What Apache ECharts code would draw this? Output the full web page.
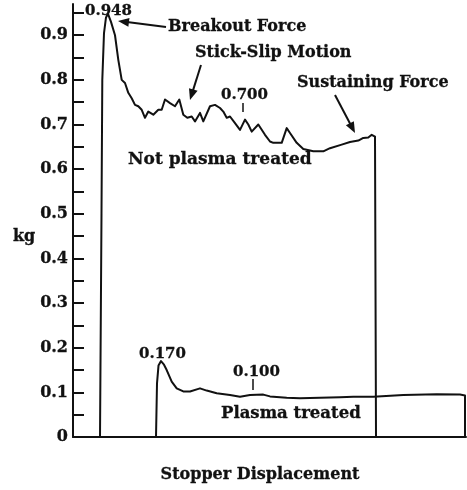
<!DOCTYPE html>
<html>
<head>
<meta charset="utf-8">
<script src="https://cdn.jsdelivr.net/npm/echarts@6/dist/echarts.min.js"></script>
<style>
html,body{margin:0;padding:0;background:#fff;}
#chart{width:467px;height:490px;}
</style>
</head>
<body>
<div id="chart"></div>
<script>
// Stopper displacement (arbitrary units) and force (kg)
var notPlasmaX = [27,28.5,29.3,31,33,35,38,42,45.3,48.7,52,55.3,58.7,62,65.3,68.7,72,75.3,80.3,85.3,88.7,92,97,102,106.3,110.3,114.3,118.7,122,127,130.3,137,142,147,150.3,153.7,157,162,167,172,175.3,178.7,185.3,192,197,200.3,208.7,213.7,217,223.7,230.3,240.3,250.3,257,268.7,277,285.3,290.3,295.3,298.7,302,303];
var notPlasmaY = [0,0.5,0.8,0.905,0.94,0.948,0.93,0.9,0.845,0.800,0.793,0.771,0.759,0.744,0.741,0.733,0.715,0.729,0.722,0.733,0.733,0.756,0.748,0.741,0.756,0.722,0.715,0.718,0.707,0.726,0.707,0.741,0.744,0.737,0.729,0.715,0.718,0.703,0.688,0.711,0.700,0.684,0.700,0.677,0.662,0.659,0.659,0.692,0.681,0.659,0.645,0.640,0.640,0.647,0.655,0.661,0.664,0.670,0.671,0.677,0.673,0];
var plasmaX = [83,84,85.5,88,91,93.7,98.7,103.7,110.3,117,127,133.7,143.7,157,167,177,190.3,197,213.7,227,247,267,280.3,300.3,330.3,363.7,387,392,392];
var plasmaY = [0,0.12,0.16,0.170,0.162,0.150,0.124,0.109,0.102,0.102,0.109,0.104,0.098,0.094,0.090,0.094,0.095,0.091,0.088,0.087,0.088,0.089,0.090,0.090,0.094,0.096,0.095,0.093,0];
var yTickValues = [0,0.05,0.1,0.15,0.2,0.25,0.3,0.35,0.4,0.45,0.5,0.55,0.6,0.65,0.7,0.75,0.8,0.85,0.9,0.95];
var yLabelValues = [0,0.1,0.2,0.3,0.4,0.5,0.6,0.7,0.8,0.9];
var yLabelText = ['0','0.1','0.2','0.3','0.4','0.5','0.6','0.7','0.8','0.9'];

function pairs(xs, ys){ return xs.map(function(x,i){ return [x, ys[i]]; }); }

var FONT = '"DejaVu Serif", "Liberation Serif", serif';

function txt(s, x, y, size, align){
  return {type:'text', x:x, y:y, silent:true,
    style:{text:s, fontFamily:FONT, fontWeight:'bold', fontSize:size||16, fill:'#111',
      stroke:'#111', lineWidth:0.3,
      align:align||'left', verticalAlign:'middle'}};
}
function arrow(x1,y1,x2,y2){
  var dx=x2-x1, dy=y2-y1, L=Math.sqrt(dx*dx+dy*dy), ux=dx/L, uy=dy/L;
  var hl=11, hw=4.5;
  var bx=x2-ux*hl, by=y2-uy*hl;
  return [
    {type:'line', silent:true, shape:{x1:x1,y1:y1,x2:bx+ux*2,y2:by+uy*2}, style:{stroke:'#111', lineWidth:2}},
    {type:'polygon', silent:true, shape:{points:[[x2,y2],[bx-uy*hw,by+ux*hw],[bx+uy*hw,by-ux*hw]]}, style:{fill:'#111'}}
  ];
}
function seg(x1,y1,x2,y2){
  return {type:'line', silent:true, shape:{x1:x1,y1:y1,x2:x2,y2:y2}, style:{stroke:'#111', lineWidth:1.5}};
}

var chart = echarts.init(document.getElementById('chart'), null, {renderer:'canvas'});
var graphics = [
  txt('0.948', 85, 11, 15),
  txt('Breakout Force', 168, 27),
  txt('Stick-Slip Motion', 195, 53),
  txt('Sustaining Force', 297, 83),
  txt('0.700', 221, 95, 15),
  seg(243,103,243,112),
  txt('Not plasma treated', 128, 160, 17),
  txt('kg', 13, 237),
  txt('0.170', 139, 354, 15),
  txt('0.100', 233, 372, 15),
  seg(253,379,253,390),
  txt('Plasma treated', 221, 414, 16.5),
  txt('Stopper Displacement', 260, 475, 16, 'center')
].concat(arrow(166,27,118,21)).concat(arrow(201,65,190,100)).concat(arrow(335,95,355,133));

chart.setOption({
  animation:false,
  backgroundColor:'#fff',
  grid:{left:73, right:1, top:4, bottom:53, containLabel:false},
  xAxis:{type:'value', min:0, max:393,
    axisLine:{show:true, onZero:false, lineStyle:{color:'#111', width:2}},
    axisTick:{show:false}, axisLabel:{show:false}, splitLine:{show:false}},
  yAxis:{type:'value', min:0, max:0.97,
    axisLine:{show:true, lineStyle:{color:'#111', width:2}},
    axisTick:{show:true, inside:true, length:11, lineStyle:{color:'#111', width:2}, customValues:yTickValues},
    axisLabel:{show:true, margin:5, color:'#111', fontFamily:FONT, fontWeight:'bold', fontSize:16,
      textBorderColor:'#111', textBorderWidth:0.3,
      customValues:yLabelValues,
      formatter:function(v){ var i=yLabelValues.findIndex(function(t){return Math.abs(t-v)<1e-6;}); return i>=0?yLabelText[i]:''; }},
    splitLine:{show:false}},
  series:[
    {name:'Not plasma treated', type:'line', data:pairs(notPlasmaX, notPlasmaY), showSymbol:false,
      lineStyle:{color:'#111', width:2, join:'round'}, silent:true},
    {name:'Plasma treated', type:'line', data:pairs(plasmaX, plasmaY), showSymbol:false,
      lineStyle:{color:'#111', width:2, join:'round'}, silent:true}
  ],
  graphic:graphics
});
</script>
</body>
</html>
